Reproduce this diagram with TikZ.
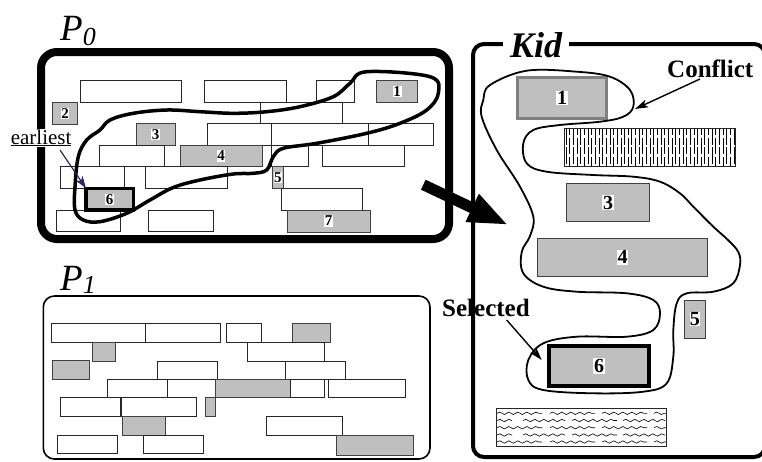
\documentclass[tikz,border=0pt]{standalone}
\usepackage{fontspec}
\setmainfont{Liberation Serif}
\newfontfamily\nolig{Liberation Serif}[Ligatures={NoCommon}]
\usetikzlibrary{arrows.meta,decorations.pathmorphing,calc}
\newcommand\mybox[6][wb]{\node[#1,minimum width={(#5)-(#3)},minimum height={(#6)-(#4)}] (#2) at (#3,#4) {};}
\begin{document}
\begin{tikzpicture}[x=1pt,y=-1pt,
  bx/.style={draw=black!85, line width=0.9pt, fill=white, anchor=north west, outer sep=0pt, inner sep=0pt},
  wb/.style={bx},
  gb/.style={bx, fill=black!25, draw=black!75},
  cont/.style={draw=black, anchor=north west, outer sep=0pt, inner sep=0pt},
  num/.style={font=\fontsize{15}{15}\selectfont\bfseries, fill=white, inner sep=0.6pt},
  knum/.style={font=\fontsize{20}{20}\selectfont\bfseries, fill=white, inner sep=0.8pt},
  lab/.style={font=\fontsize{25}{25}\selectfont\bfseries, anchor=base west, inner sep=0pt},
  carr/.style={line width=1.4pt, -{Stealth[length=13pt,width=8pt,inset=3pt]}},
  earr/.style={line width=1.2pt, draw={rgb,255:red,40;green,40;blue,100}, -{Stealth[length=12pt,width=8pt,inset=3pt, fill={rgb,255:red,40;green,40;blue,110}]}},
  wave/.style={line width=0.6pt, decorate, decoration={snake, segment length=9pt, amplitude=1.2pt}},
  hatch/.style={line width=0.5pt, dash pattern=on 16.5pt off 2.5pt},
]
\useasboundingbox (0,0) rectangle (762,461);
% ---------------- P0 ----------------
\mybox[cont, line width=8pt, rounded corners=16pt]{P0box}{41}{52}{449}{239}
\node[anchor=base west, inner sep=0pt, font=\fontsize{37}{37}\selectfont\itshape] (P0lab) at (60,40) {P\raisebox{-5pt}{\fontsize{26}{26}\selectfont 0}};
\mybox{p0a}{80.7}{80.7}{181.7}{102.3}
\mybox{p0b}{204.7}{80.7}{286}{102.3}
\mybox{p0c}{316.7}{80.7}{354}{102.3}
\mybox[gb]{p01}{376.7}{80.7}{417.7}{102.3}
\mybox[gb]{p02}{52.7}{102.3}{77.3}{124}
\mybox{p0d}{260.7}{102.3}{342.7}{123.8}
\mybox[gb]{p03}{136}{123.8}{175}{145.3}
\mybox{p0e}{207.3}{123.8}{271.6}{145.3}
\mybox{p0f}{271.6}{123.8}{368.5}{145.3}
\mybox{p0g}{368.5}{123.8}{433.3}{145.3}
\mybox{p0h}{99.3}{145.3}{164}{166.7}
\mybox[gb]{p04}{180}{145.3}{262}{166.7}
\mybox{p0i}{271.7}{145.3}{308.3}{166.7}
\mybox{p0j}{322.7}{145.3}{404.3}{166.7}
\mybox{p0k}{60}{166.7}{124.3}{188.3}
\mybox{p0l}{145.3}{166.7}{227.3}{188.3}
\mybox[gb]{p05}{272.5}{166.7}{283.3}{188.3}
\mybox{p0m}{281}{188.3}{362.7}{210}
\mybox{p0n}{56}{210}{120.7}{231.7}
\mybox{p0o}{148.7}{210}{213.3}{231.7}
\mybox[gb]{p07}{287.3}{210}{370}{232}
\mybox[gb, draw=black, line width=3.2pt]{p06}{86}{188.3}{133.3}{210}
\node[num] (n01) at (p01) {1};
\node[num] (n02) at (p02) {2};
\node[num] (n03) at (p03) {3};
\node[num] (n04) at (p04) {4};
\node[num, inner sep=0.2pt] (n05) at (p05) {5};
\node[num] (n06) at (p06) {6};
\node[num] (n07) at (p07) {7};
\draw[line width=3.5pt] plot[smooth cycle, tension=0.6] coordinates {
 (366.7,71.7) (430,76.7) (438.3,93.3) (426.7,110) (400,123.3) (366.7,133.3)
 (316.7,143.3) (283.3,148.3) (273.3,156.7) (266.7,170) (253.3,173.3) (233.3,174)
 (200,180) (173.3,187.5) (150,200) (126.7,213.3) (100,221.7) (83.3,220) (75,210)
 (75,186.7) (78.3,156.7) (86.7,140) (100,130) (110,120) (133.3,113.3) (166.7,110)
 (200,111.7) (233.3,113.3) (266.7,111.7) (300,106.7) (333.3,96.7) (350,83.3)};
\node[anchor=base west, fill=white, inner sep=0.6pt, font=\fontsize{21}{21}\selectfont\nolig] (earliest) at (10,144) {\underline{earliest}};
\coordinate (eastart) at (60,150);
\draw[earr] (eastart) -- (p06.north west);
% ---------------- P1 ----------------
\mybox[cont, line width=1.6pt, rounded corners=11pt]{P1box}{43.3}{296}{430}{459}
\node[anchor=base west, inner sep=0pt, font=\fontsize{37}{37}\selectfont\itshape] (P1lab) at (60,290) {P\raisebox{-3pt}{\fontsize{26}{26}\selectfont 1}};
\mybox{q1a}{51}{323.3}{145}{342.3}
\mybox{q1b}{145.7}{323.3}{220.7}{342.3}
\mybox{q1c}{226.7}{323.3}{261}{342.3}
\mybox[gb]{q1d}{292}{323.3}{330.7}{342.3}
\mybox[gb]{q2a}{92.3}{342.3}{115}{361.7}
\mybox{q2b}{247.3}{342.3}{324}{361.7}
\mybox[gb]{q3a}{52.7}{360.7}{89.3}{379.3}
\mybox{q3b}{157.3}{361.7}{217.3}{379.3}
\mybox{q3c}{285.3}{361.7}{345.3}{379.3}
\mybox{q4a}{107.3}{379.3}{167.3}{397.7}
\mybox[gb]{q4b}{215.7}{379.3}{290.7}{397.7}
\mybox{q4c}{290.7}{379.3}{324}{397.7}
\mybox{q4d}{328.7}{379.3}{405}{397.7}
\mybox{q5a}{60.7}{397.7}{120.7}{416.7}
\mybox{q5b}{121}{397.7}{196.7}{416.7}
\mybox[gb]{q5c}{205}{397.7}{215}{416.7}
\mybox[gb]{q6a}{122.3}{416.7}{165.7}{435}
\mybox{q6b}{266}{416.7}{342.3}{435}
\mybox{q7a}{57.3}{435}{117.3}{453.3}
\mybox{q7b}{143.3}{435}{203.3}{453.3}
\mybox[gb]{q7c}{336.7}{435.7}{413.3}{455.7}
% ---------------- Kid ----------------
\mybox[cont, line width=4pt, rounded corners=11pt]{kidbox}{473}{44}{765}{457}
\node[anchor=base west, fill=white, inner xsep=7pt, inner ysep=2pt, font=\fontsize{36}{36}\selectfont\bfseries\itshape] (kidlab) at (503,57) {Kid};
\mybox[gb, draw=black!50, line width=3pt]{k1}{517.3}{77.7}{606.7}{118.3}
\mybox{khatch}{564}{128.3}{735.7}{166.7}
\begin{scope}
\clip (564,128.3) rectangle (735.7,166.7);
\foreach \xx in {566,573.3,...,736} \draw[hatch] (\xx,128.3) -- (\xx,170);
\foreach \xx in {569.65,576.95,...,736} \draw[hatch, dash phase=9.5pt] (\xx,128.3) -- (\xx,170);
\end{scope}
\draw[line width=0.9pt, draw=black!85] (khatch.north west) rectangle (khatch.south east);
\mybox[gb]{k3}{566.7}{183.3}{649.3}{221.7}
\mybox[gb]{k4}{537.7}{238.3}{707.3}{276}
\mybox[gb]{k5}{684}{300}{705.7}{338.3}
\mybox[gb, draw=black, line width=4pt]{k6}{549.3}{346}{648.7}{386}
\mybox{kwave}{496}{408.3}{666.7}{446}
\foreach \yy in {413.3,427.7,442} {
  \foreach \a/\b in {497/542,550/595,602/647,654/666}
    \draw[wave] (\a,\yy) -- (\b,\yy);
}
\foreach \yy in {420.5,435} {
  \foreach \a/\b in {497/512,523/565,572/617,623/665}
    \draw[wave] (\a,\yy) -- (\b,\yy);
}
\node[knum] (m1) at (k1) {1};
\node[knum] (m3) at (k3) {3};
\node[knum] (m4) at (k4) {4};
\node[knum, inner sep=0.3pt] (m5) at (k5) {5};
\node[knum] (m6) at (k6) {6};
\draw[line width=1.8pt] plot[smooth cycle, tension=0.6] coordinates {
 (490,85) (526.7,70.7) (576.7,71.7) (610,76.7) (630,90) (633.3,106.7) (623.3,116.7)
 (600,121.7) (560,125) (533.3,130) (523.3,143.3) (526.7,163.3) (546.7,171.7)
 (593.3,175) (633.3,176.7) (660,181.7) (680,193.3) (693.3,206.7) (713.3,226.7)
 (728,240) (738.3,252) (740,265) (733.3,283.3) (713.3,291.7) (686.7,293.3)
 (676.7,303.3) (673.3,330) (673.3,356.7) (666.7,383.3) (643.3,391.7) (593.3,393.3)
 (543.3,390) (528.3,380) (528.3,360) (543.3,343.3) (576.7,336.7) (626.7,336.7)
 (653.3,330) (660,313.3) (653.3,300) (626.7,293.3) (576.7,291.7) (543.3,286.7)
 (523.3,273.3) (521.7,252) (530,236) (533.3,216.7) (520,186.7) (496.7,150)
 (481.7,116.7) (483.3,100)};
\node[lab] (conflict) at (667,77) {Conflict};
\coordinate (cfrom) at (700,79);
\coordinate (cto) at (635,109);
\draw[carr] (cfrom) -- (cto);
\node[lab] (selected) at (442,316.7) {Selected};
\coordinate (sfrom) at (506.7,320);
\coordinate (sto) at (541.7,360);
\draw[carr] (sfrom) -- (sto);
% ---------------- big arrow ----------------
\coordinate (bigfrom) at (423.3,184.7);
\coordinate (bigto) at (508.3,225);
\draw[line width=11pt, -{Triangle[length=40pt,width=28pt]}] (bigfrom) -- (bigto);
\end{tikzpicture}
\end{document}
